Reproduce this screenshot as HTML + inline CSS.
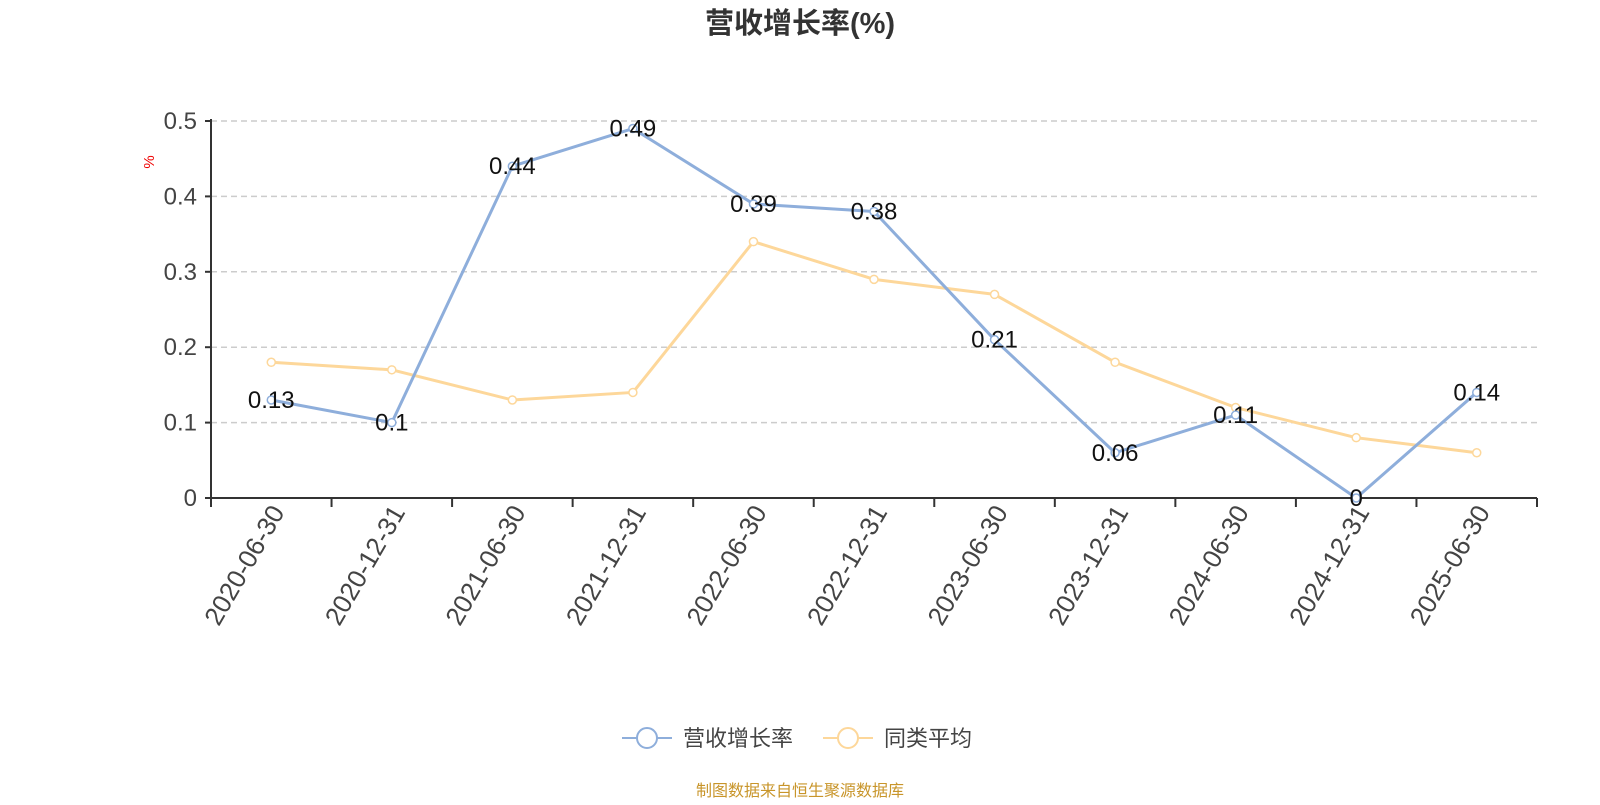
<!DOCTYPE html>
<html><head><meta charset="utf-8"><style>
body{margin:0;background:#fff;width:1600px;height:800px;overflow:hidden}
svg text{font-family:"Liberation Sans","Noto Sans CJK SC",sans-serif}
</style></head><body>
<svg id="chart" width="1600" height="800" viewBox="0 0 1600 800" xmlns="http://www.w3.org/2000/svg">
<text x="800" y="33" text-anchor="middle" font-size="29" font-weight="bold" fill="#333">营收增长率(%)</text>
<text x="0" y="0" transform="translate(154,162) rotate(-90)" text-anchor="middle" font-size="15" fill="#e00">%</text>
<g id="grid"></g><g id="axes"></g><g id="series"></g><g id="labels"></g>
<g>
<g>
<line x1="622" y1="738" x2="672" y2="738" stroke="#8eaedb" stroke-width="2"/>
<circle cx="647" cy="738" r="10" fill="#fff" stroke="#8eaedb" stroke-width="2"/>
<text x="683" y="746" font-size="22" fill="#444">营收增长率</text></g>
<g>
<line x1="823" y1="738" x2="873" y2="738" stroke="#fdd79a" stroke-width="2"/>
<circle cx="848" cy="738" r="10" fill="#fff" stroke="#fdd79a" stroke-width="2"/>
<text x="884" y="746" font-size="22" fill="#444">同类平均</text></g>
</g>
<text x="800" y="796" text-anchor="middle" font-size="16" fill="#c8952a">制图数据来自恒生聚源数据库</text>
</svg>
<script>
const categories=["2020-06-30","2020-12-31","2021-06-30","2021-12-31","2022-06-30","2022-12-31","2023-06-30","2023-12-31","2024-06-30","2024-12-31","2025-06-30"];
const revenueGrowth=[0.13,0.1,0.44,0.49,0.39,0.38,0.21,0.06,0.11,0,0.14];
const peerAverage=[0.18,0.17,0.13,0.14,0.34,0.29,0.27,0.18,0.12,0.08,0.06];
const yTicks=[0,0.1,0.2,0.3,0.4,0.5];
const NS="http://www.w3.org/2000/svg";
const X0=211,X1=1537,Y0=498,Y1=121,YMAX=0.5;
const band=(X1-X0)/categories.length;
const xs=i=>X0+band*(i+0.5);
const ys=v=>Y0-(v/YMAX)*(Y0-Y1);
function mk(tag,attrs,parent){const e=document.createElementNS(NS,tag);for(const k in attrs)e.setAttribute(k,attrs[k]);parent.appendChild(e);return e;}
const grid=document.getElementById('grid'),axes=document.getElementById('axes'),series=document.getElementById('series'),labels=document.getElementById('labels');
yTicks.forEach(t=>{
  const y=ys(t);
  if(t>0){const g=mk('line',{x1:X0,x2:X1,y1:y,y2:y,stroke:'#ccc','stroke-width':1.5,'stroke-dasharray':'6,4'},grid);
  
  }
  const tk=mk('line',{x1:X0-6,x2:X0,y1:y,y2:y,stroke:'#333','stroke-width':2},axes);
  
  
  const tx=mk('text',{x:X0-14,y:y+8,'text-anchor':'end','font-size':24,fill:'#444'},axes);
  
  
  tx.textContent=String(t);
});
const ya=mk('line',{x1:X0,x2:X0,y1:Y1-2,y2:Y0,stroke:'#333','stroke-width':2},axes);


const xa=mk('line',{x1:X0,x2:X1,y1:Y0,y2:Y0,stroke:'#333','stroke-width':2},axes);


for(let i=0;i<=categories.length;i++){
  const x=X0+band*i;
  const tk=mk('line',{x1:x,x2:x,y1:Y0,y2:Y0+9,stroke:'#333','stroke-width':2},axes);
  
  
}
categories.forEach((c,i)=>{
  const x=xs(i);
  const t=mk('text',{transform:`translate(${x+14},${Y0+14}) rotate(-60)`,'text-anchor':'end','font-size':26,fill:'#444'},axes);
  
  
  t.textContent=c;
});
function drawSeries(vals,color,name,withLabels){
  const pts=vals.map((v,i)=>xs(i)+','+ys(v)).join(' ');
  const pl=mk('polyline',{points:pts,fill:'none',stroke:color,'stroke-width':3,'stroke-linejoin':'round'},series);
  
  
  vals.forEach((v,i)=>{
    const c=mk('circle',{cx:xs(i),cy:ys(v),r:4,fill:'#fff',stroke:color,'stroke-width':1.5},series);
    
    
    if(withLabels){
      const t=mk('text',{x:xs(i),y:ys(v)+8,'text-anchor':'middle','font-size':24,fill:'#111'},labels);
      
      
      t.textContent=String(v);
    }
  });
}
drawSeries(peerAverage,'#fdd79a','peer-average',false);
drawSeries(revenueGrowth,'#8eaedb','revenue-growth',true);
</script>
</body></html>
